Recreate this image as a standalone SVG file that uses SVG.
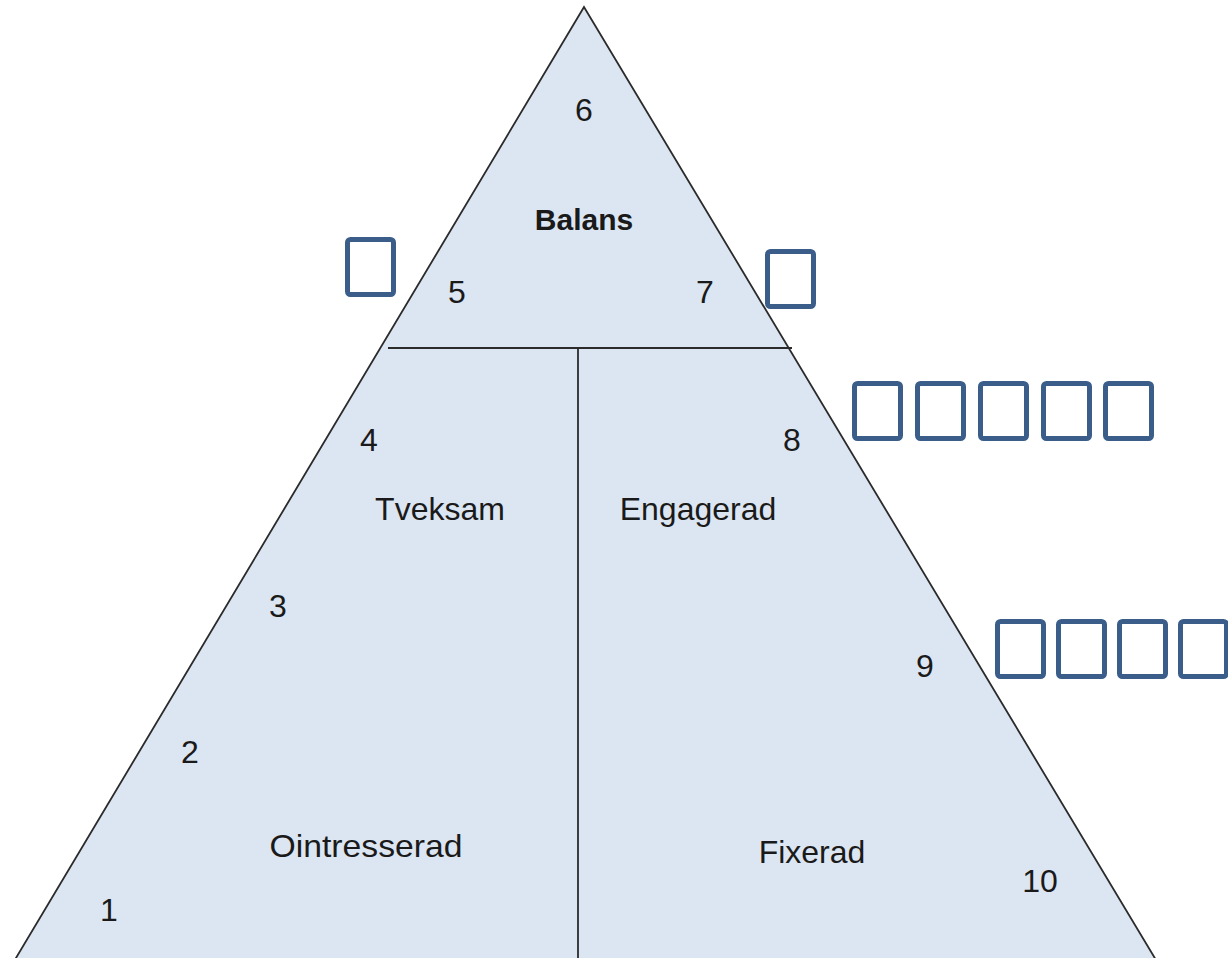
<svg xmlns="http://www.w3.org/2000/svg" width="1228" height="958" viewBox="0 0 1228 958">
<style>
.t{font-family:"Liberation Sans",Arial,sans-serif;font-size:32px;fill:#1a1a1a;text-anchor:middle}
.b{font-weight:bold;font-size:30px}
.ln{stroke:#2b2b2b;stroke-width:1.8;fill:none}
.tofu{fill:#fff;stroke:#3a5d8a;stroke-width:5}
</style>
<defs>
<rect id="box" class="tofu" x="2.5" y="2.5" width="46" height="55" rx="3"/>
</defs>
<rect width="1228" height="958" fill="#fff"/>
<g id="pyramid">
<polygon points="584,7 8.8,970 1162,970" fill="#dce6f2" stroke="#2b2b2b" stroke-width="1.8"/>
</g>
<g id="connectors">
<line class="ln" x1="388" y1="348" x2="792" y2="348"/>
<line class="ln" x1="578" y1="348" x2="578" y2="970"/>
</g>
<g id="balans">
<text class="t" x="584" y="121">6</text>
<text class="t b" x="584" y="230">Balans</text>
<text class="t" x="457" y="303">5</text>
<text class="t" x="705" y="303">7</text>
</g>
<g id="tveksam">
<text class="t" x="369" y="451">4</text>
<text class="t" x="440" y="520">Tveksam</text>
<text class="t" x="278" y="617">3</text>
</g>
<g id="engagerad">
<text class="t" x="792" y="451">8</text>
<text class="t" x="698" y="520">Engagerad</text>
<text class="t" x="925" y="677">9</text>
</g>
<g id="ointresserad">
<text class="t" x="190" y="763">2</text>
<text class="t" x="366" y="857" textLength="193" lengthAdjust="spacingAndGlyphs">Ointresserad</text>
<text class="t" x="109" y="921">1</text>
</g>
<g id="fixerad">
<text class="t" x="812" y="863">Fixerad</text>
<text class="t" x="1040" y="892">10</text>
</g>
<g id="tofu-left"><use href="#box" x="345" y="237"/></g>
<g id="tofu-right"><use href="#box" x="765" y="249"/></g>
<g id="tofu-row1">
<use href="#box" x="852" y="381"/>
<use href="#box" x="915" y="381"/>
<use href="#box" x="978" y="381"/>
<use href="#box" x="1041" y="381"/>
<use href="#box" x="1103" y="381"/>
</g>
<g id="tofu-row2">
<use href="#box" x="995" y="619"/>
<use href="#box" x="1056" y="619"/>
<use href="#box" x="1117" y="619"/>
<use href="#box" x="1178" y="619"/>
</g>
</svg>
